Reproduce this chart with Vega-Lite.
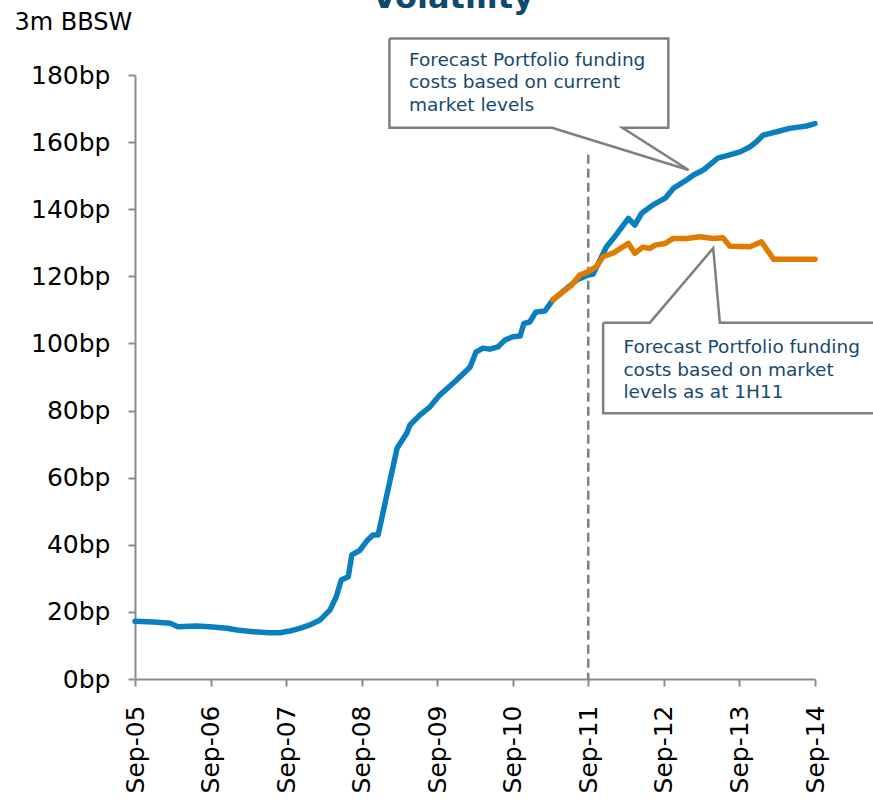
{
  "$schema": "https://vega.github.io/schema/vega-lite/v6.json",
  "width": 680,
  "height": 604,
  "autosize": {"type": "none"},
  "padding": {"left": 135, "top": 75, "right": 58, "bottom": 122},
  "background": "white",
  "config": {"view": {"stroke": null}, "font": "DejaVu Sans"},
  "title": {
    "text": "Volatility",
    "fontSize": 32,
    "fontWeight": "bold",
    "font": "DejaVu Sans",
    "color": "#0D4A6E",
    "anchor": "middle",
    "dx": -22,
    "baseline": "alphabetic",
    "offset": -30
  },
  "datasets": {
    "divider": [{"date": "2011-09-01", "bp": 156.2}],
    "current": [
      {"date": "2005-09-01", "bp": 17.2},
      {"date": "2005-12-01", "bp": 17.0},
      {"date": "2006-02-18", "bp": 16.6},
      {"date": "2006-03-27", "bp": 15.6},
      {"date": "2006-06-25", "bp": 15.8},
      {"date": "2006-08-28", "bp": 15.6},
      {"date": "2006-11-19", "bp": 15.1},
      {"date": "2007-01-07", "bp": 14.6},
      {"date": "2007-03-25", "bp": 14.1},
      {"date": "2007-06-13", "bp": 13.8},
      {"date": "2007-08-01", "bp": 13.8},
      {"date": "2007-09-19", "bp": 14.3},
      {"date": "2007-11-07", "bp": 15.1},
      {"date": "2007-12-25", "bp": 16.1},
      {"date": "2008-02-13", "bp": 17.6},
      {"date": "2008-04-01", "bp": 20.6},
      {"date": "2008-05-01", "bp": 24.5},
      {"date": "2008-05-25", "bp": 29.5},
      {"date": "2008-06-28", "bp": 30.5},
      {"date": "2008-07-15", "bp": 37.0},
      {"date": "2008-08-22", "bp": 38.3},
      {"date": "2008-09-25", "bp": 41.1},
      {"date": "2008-10-25", "bp": 42.9},
      {"date": "2008-11-19", "bp": 42.9},
      {"date": "2009-02-19", "bp": 68.8},
      {"date": "2009-04-07", "bp": 73.3},
      {"date": "2009-04-22", "bp": 75.7},
      {"date": "2009-06-10", "bp": 78.7},
      {"date": "2009-07-28", "bp": 81.1},
      {"date": "2009-09-13", "bp": 84.6},
      {"date": "2009-12-04", "bp": 89.1},
      {"date": "2010-02-07", "bp": 93.0},
      {"date": "2010-03-07", "bp": 97.4},
      {"date": "2010-04-10", "bp": 98.6},
      {"date": "2010-05-13", "bp": 98.3},
      {"date": "2010-06-22", "bp": 99.0},
      {"date": "2010-07-25", "bp": 101.0},
      {"date": "2010-09-01", "bp": 102.0},
      {"date": "2010-10-07", "bp": 102.2},
      {"date": "2010-10-25", "bp": 106.0},
      {"date": "2010-11-22", "bp": 106.4},
      {"date": "2010-12-22", "bp": 109.4},
      {"date": "2011-02-04", "bp": 109.7},
      {"date": "2011-03-13", "bp": 112.9},
      {"date": "2011-07-07", "bp": 118.9},
      {"date": "2011-09-01", "bp": 120.4},
      {"date": "2011-09-25", "bp": 120.7},
      {"date": "2011-10-28", "bp": 124.9},
      {"date": "2011-11-28", "bp": 128.8},
      {"date": "2012-01-07", "bp": 131.8},
      {"date": "2012-03-13", "bp": 137.3},
      {"date": "2012-04-13", "bp": 135.3},
      {"date": "2012-05-16", "bp": 138.8},
      {"date": "2012-07-10", "bp": 141.3},
      {"date": "2012-09-07", "bp": 143.3},
      {"date": "2012-10-16", "bp": 146.2},
      {"date": "2012-12-19", "bp": 148.7},
      {"date": "2013-01-22", "bp": 150.2},
      {"date": "2013-03-10", "bp": 151.7},
      {"date": "2013-04-10", "bp": 153.2},
      {"date": "2013-05-19", "bp": 155.2},
      {"date": "2013-07-16", "bp": 156.2},
      {"date": "2013-09-04", "bp": 157.1},
      {"date": "2013-10-22", "bp": 158.6},
      {"date": "2013-11-22", "bp": 160.1},
      {"date": "2013-12-25", "bp": 162.1},
      {"date": "2014-02-28", "bp": 163.1},
      {"date": "2014-05-01", "bp": 164.1},
      {"date": "2014-07-22", "bp": 164.8},
      {"date": "2014-09-01", "bp": 165.5}
    ],
    "h111": [
      {"date": "2011-03-13", "bp": 113.0},
      {"date": "2011-06-13", "bp": 117.4},
      {"date": "2011-07-22", "bp": 120.4},
      {"date": "2011-09-01", "bp": 121.4},
      {"date": "2011-10-10", "bp": 122.9},
      {"date": "2011-11-13", "bp": 125.9},
      {"date": "2012-01-01", "bp": 127.0},
      {"date": "2012-03-13", "bp": 129.8},
      {"date": "2012-04-13", "bp": 126.9},
      {"date": "2012-05-22", "bp": 128.7},
      {"date": "2012-06-25", "bp": 128.3},
      {"date": "2012-07-19", "bp": 129.3},
      {"date": "2012-09-07", "bp": 129.8},
      {"date": "2012-10-16", "bp": 131.3},
      {"date": "2012-12-19", "bp": 131.3},
      {"date": "2013-02-22", "bp": 131.8},
      {"date": "2013-04-28", "bp": 131.3},
      {"date": "2013-06-13", "bp": 131.5},
      {"date": "2013-07-16", "bp": 129.0},
      {"date": "2013-10-22", "bp": 128.8},
      {"date": "2013-12-16", "bp": 130.3},
      {"date": "2014-02-13", "bp": 125.1},
      {"date": "2014-09-01", "bp": 125.1}
    ],
    "callouts": [
      {"callout": "current", "i": 0, "date": "2009-01-13", "bp": 190.9},
      {"callout": "current", "i": 1, "date": "2012-09-22", "bp": 190.9},
      {"callout": "current", "i": 2, "date": "2012-09-22", "bp": 164.3},
      {"callout": "current", "i": 3, "date": "2012-02-13", "bp": 164.3},
      {"callout": "current", "i": 4, "date": "2012-12-29", "bp": 151.7},
      {"callout": "current", "i": 5, "date": "2011-03-10", "bp": 164.3},
      {"callout": "current", "i": 6, "date": "2009-01-13", "bp": 164.3},
      {"callout": "current", "i": 7, "date": "2009-01-13", "bp": 190.9},
      {"callout": "h111", "i": 0, "date": "2011-11-12", "bp": 106.2},
      {"callout": "h111", "i": 1, "date": "2012-06-25", "bp": 106.2},
      {"callout": "h111", "i": 2, "date": "2013-04-27", "bp": 128.4},
      {"callout": "h111", "i": 3, "date": "2013-05-29", "bp": 106.2},
      {"callout": "h111", "i": 4, "date": "2015-07-10", "bp": 106.2},
      {"callout": "h111", "i": 5, "date": "2015-07-10", "bp": 79.2},
      {"callout": "h111", "i": 6, "date": "2011-11-12", "bp": 79.2},
      {"callout": "h111", "i": 7, "date": "2011-11-12", "bp": 106.2}
    ],
    "notes": [
      {"note": "Forecast Portfolio funding\ncosts based on current\nmarket levels", "date": "2009-04-17", "bp": 182.8},
      {"note": "Forecast Portfolio funding\ncosts based on market\nlevels as at 1H11", "date": "2012-02-18", "bp": 97.2}
    ]
  },
  "layer": [
    {
      "data": {"name": "divider"},
      "mark": {"type": "rule", "strokeDash": [9, 5], "color": "#808080", "strokeWidth": 2.5},
      "encoding": {
        "x": {
          "field": "date",
          "type": "temporal",
          "scale": {
            "type": "utc",
            "domain": [
              {"year": 2005, "month": 9, "date": 1, "utc": true},
              {"year": 2014, "month": 9, "date": 1, "utc": true}
            ]
          },
          "axis": {
            "title": null,
            "values": [
              {"year": 2005, "month": 9, "date": 1, "utc": true},
              {"year": 2006, "month": 9, "date": 1, "utc": true},
              {"year": 2007, "month": 9, "date": 1, "utc": true},
              {"year": 2008, "month": 9, "date": 1, "utc": true},
              {"year": 2009, "month": 9, "date": 1, "utc": true},
              {"year": 2010, "month": 9, "date": 1, "utc": true},
              {"year": 2011, "month": 9, "date": 1, "utc": true},
              {"year": 2012, "month": 9, "date": 1, "utc": true},
              {"year": 2013, "month": 9, "date": 1, "utc": true},
              {"year": 2014, "month": 9, "date": 1, "utc": true}
            ],
            "labelExpr": "utcFormat(datum.value, '%b-%y')",
            "labelAngle": -90,
            "labelAlign": "right",
            "labelBaseline": "middle",
            "labelFontSize": 25,
            "labelFont": "DejaVu Sans",
            "labelColor": "#000000",
            "labelPadding": 19,
            "tickSize": 7,
            "tickWidth": 2,
            "tickColor": "#8C8C8C",
            "domainColor": "#8C8C8C",
            "domainWidth": 2,
            "grid": false,
            "labelOverlap": false,
            "labelFlush": false
          }
        },
        "y": {
          "field": "bp",
          "type": "quantitative",
          "scale": {"domain": [0, 180], "nice": false},
          "axis": {
            "title": "3m BBSW",
            "titleAngle": 0,
            "titleAlign": "left",
            "titleBaseline": "alphabetic",
            "titleX": -121,
            "titleY": -46,
            "titleFontSize": 24,
            "titleFontWeight": "normal",
            "titleFont": "DejaVu Sans",
            "titleColor": "#000000",
            "values": [0, 20, 40, 60, 80, 100, 120, 140, 160, 180],
            "labelExpr": "datum.value + 'bp'",
            "labelFontSize": 25,
            "labelFont": "DejaVu Sans",
            "labelColor": "#000000",
            "labelPadding": 18,
            "tickSize": 7,
            "tickWidth": 2,
            "tickColor": "#8C8C8C",
            "domainColor": "#8C8C8C",
            "domainWidth": 2,
            "grid": false,
            "labelOverlap": false,
            "labelFlush": false
          }
        },
        "y2": {"datum": 0}
      }
    },
    {
      "data": {"name": "current"},
      "mark": {"type": "line", "color": "#0A7FC0", "strokeWidth": 5.5, "strokeCap": "round", "strokeJoin": "round"},
      "encoding": {
        "x": {"field": "date", "type": "temporal"},
        "y": {"field": "bp", "type": "quantitative"}
      }
    },
    {
      "data": {"name": "h111"},
      "mark": {"type": "line", "color": "#E07B00", "strokeWidth": 5.5, "strokeCap": "round", "strokeJoin": "round"},
      "encoding": {
        "x": {"field": "date", "type": "temporal"},
        "y": {"field": "bp", "type": "quantitative"}
      }
    },
    {
      "data": {"name": "callouts"},
      "mark": {"type": "line", "fill": "white", "stroke": "#7F7F7F", "strokeWidth": 2.5, "strokeJoin": "miter"},
      "encoding": {
        "x": {"field": "date", "type": "temporal"},
        "y": {"field": "bp", "type": "quantitative"},
        "detail": {"field": "callout"},
        "order": {"field": "i", "type": "quantitative"}
      }
    },
    {
      "data": {"name": "notes"},
      "mark": {"type": "text", "align": "left", "baseline": "alphabetic", "lineBreak": "\n", "lineHeight": 22.7, "fontSize": 18.5, "font": "DejaVu Sans", "color": "#16496E"},
      "encoding": {
        "x": {"field": "date", "type": "temporal"},
        "y": {"field": "bp", "type": "quantitative"},
        "text": {"field": "note"}
      }
    }
  ]
}
